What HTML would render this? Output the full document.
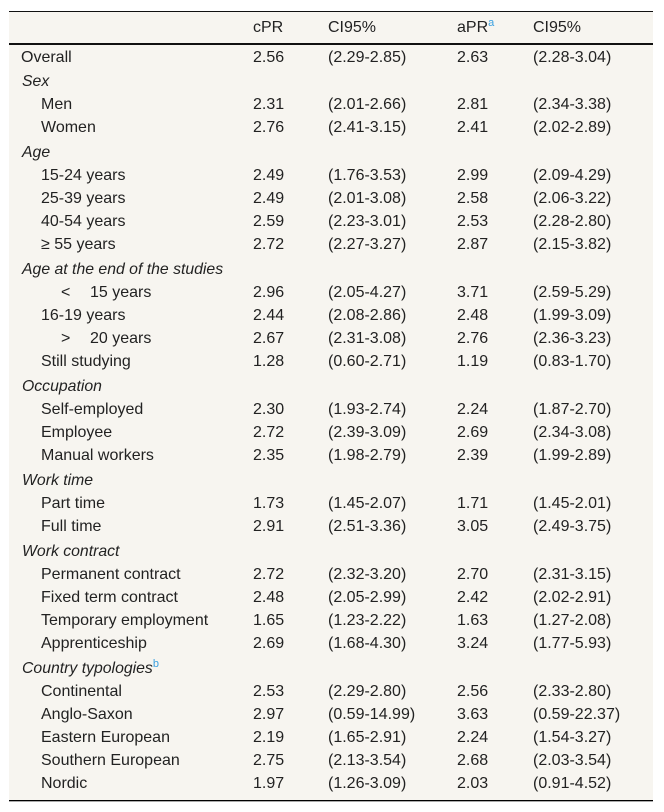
<!DOCTYPE html>
<html lang="en">
<head>
<meta charset="utf-8">
<title>Prevalence ratios table</title>
<style>
html,body{margin:0;padding:0;background:#fff;width:664px;height:812px;overflow:hidden}
table{position:absolute;left:9px;top:11px;width:644px;table-layout:fixed;border-collapse:separate;border-spacing:0;background:#f7f5f0;font-family:"Liberation Sans",sans-serif;font-size:16px;line-height:20px;color:#222;border-top:1px solid #111;border-bottom:1px solid #000;box-shadow:0 1px 0 #aaa}
td,th{padding:1px 0 0 0;vertical-align:top;font-weight:normal;text-align:left;white-space:nowrap;height:22px;box-sizing:content-box}
thead th{height:25px;padding-top:6px;border-bottom:2px solid #111}
tr.g td{height:22px;padding-top:3px}
tr.o td{height:21px;padding-top:3px}
tr.l td{height:26px}
td:first-child{padding-left:32px}
tr.g td:first-child,tr.o td:first-child{padding-left:12px}
tr.g td:first-child{font-style:italic;font-size:15.8px;padding-left:13px}
.sym{display:inline-block;width:29px;padding-left:20px}
sup{font-size:11px;font-style:normal;line-height:0;color:#3aa0e0;vertical-align:baseline;position:relative;top:-6px}
</style>
</head>
<body>
<table>
<colgroup><col style="width:244px"><col style="width:75px"><col style="width:129px"><col style="width:76px"><col style="width:120px"></colgroup>
<thead>
<tr><th></th><th>cPR</th><th>CI95%</th><th>aPR<sup>a</sup></th><th>CI95%</th></tr>
</thead>
<tbody>
<tr class="o"><td>Overall</td><td>2.56</td><td>(2.29-2.85)</td><td>2.63</td><td>(2.28-3.04)</td></tr>
<tr class="g"><td colspan="5">Sex</td></tr>
<tr><td>Men</td><td>2.31</td><td>(2.01-2.66)</td><td>2.81</td><td>(2.34-3.38)</td></tr>
<tr><td>Women</td><td>2.76</td><td>(2.41-3.15)</td><td>2.41</td><td>(2.02-2.89)</td></tr>
<tr class="g"><td colspan="5">Age</td></tr>
<tr><td>15-24 years</td><td>2.49</td><td>(1.76-3.53)</td><td>2.99</td><td>(2.09-4.29)</td></tr>
<tr><td>25-39 years</td><td>2.49</td><td>(2.01-3.08)</td><td>2.58</td><td>(2.06-3.22)</td></tr>
<tr><td>40-54 years</td><td>2.59</td><td>(2.23-3.01)</td><td>2.53</td><td>(2.28-2.80)</td></tr>
<tr><td>≥ 55 years</td><td>2.72</td><td>(2.27-3.27)</td><td>2.87</td><td>(2.15-3.82)</td></tr>
<tr class="g"><td colspan="5">Age at the end of the studies</td></tr>
<tr><td><span class="sym">&lt;</span>15 years</td><td>2.96</td><td>(2.05-4.27)</td><td>3.71</td><td>(2.59-5.29)</td></tr>
<tr><td>16-19 years</td><td>2.44</td><td>(2.08-2.86)</td><td>2.48</td><td>(1.99-3.09)</td></tr>
<tr><td><span class="sym">&gt;</span>20 years</td><td>2.67</td><td>(2.31-3.08)</td><td>2.76</td><td>(2.36-3.23)</td></tr>
<tr><td>Still studying</td><td>1.28</td><td>(0.60-2.71)</td><td>1.19</td><td>(0.83-1.70)</td></tr>
<tr class="g"><td colspan="5">Occupation</td></tr>
<tr><td>Self-employed</td><td>2.30</td><td>(1.93-2.74)</td><td>2.24</td><td>(1.87-2.70)</td></tr>
<tr><td>Employee</td><td>2.72</td><td>(2.39-3.09)</td><td>2.69</td><td>(2.34-3.08)</td></tr>
<tr><td>Manual workers</td><td>2.35</td><td>(1.98-2.79)</td><td>2.39</td><td>(1.99-2.89)</td></tr>
<tr class="g"><td colspan="5">Work time</td></tr>
<tr><td>Part time</td><td>1.73</td><td>(1.45-2.07)</td><td>1.71</td><td>(1.45-2.01)</td></tr>
<tr><td>Full time</td><td>2.91</td><td>(2.51-3.36)</td><td>3.05</td><td>(2.49-3.75)</td></tr>
<tr class="g"><td colspan="5">Work contract</td></tr>
<tr><td>Permanent contract</td><td>2.72</td><td>(2.32-3.20)</td><td>2.70</td><td>(2.31-3.15)</td></tr>
<tr><td>Fixed term contract</td><td>2.48</td><td>(2.05-2.99)</td><td>2.42</td><td>(2.02-2.91)</td></tr>
<tr><td>Temporary employment</td><td>1.65</td><td>(1.23-2.22)</td><td>1.63</td><td>(1.27-2.08)</td></tr>
<tr><td>Apprenticeship</td><td>2.69</td><td>(1.68-4.30)</td><td>3.24</td><td>(1.77-5.93)</td></tr>
<tr class="g"><td colspan="5">Country typologies<sup>b</sup></td></tr>
<tr><td>Continental</td><td>2.53</td><td>(2.29-2.80)</td><td>2.56</td><td>(2.33-2.80)</td></tr>
<tr><td>Anglo-Saxon</td><td>2.97</td><td>(0.59-14.99)</td><td>3.63</td><td>(0.59-22.37)</td></tr>
<tr><td>Eastern European</td><td>2.19</td><td>(1.65-2.91)</td><td>2.24</td><td>(1.54-3.27)</td></tr>
<tr><td>Southern European</td><td>2.75</td><td>(2.13-3.54)</td><td>2.68</td><td>(2.03-3.54)</td></tr>
<tr class="l"><td>Nordic</td><td>1.97</td><td>(1.26-3.09)</td><td>2.03</td><td>(0.91-4.52)</td></tr>
</tbody>
</table>
</body>
</html>
